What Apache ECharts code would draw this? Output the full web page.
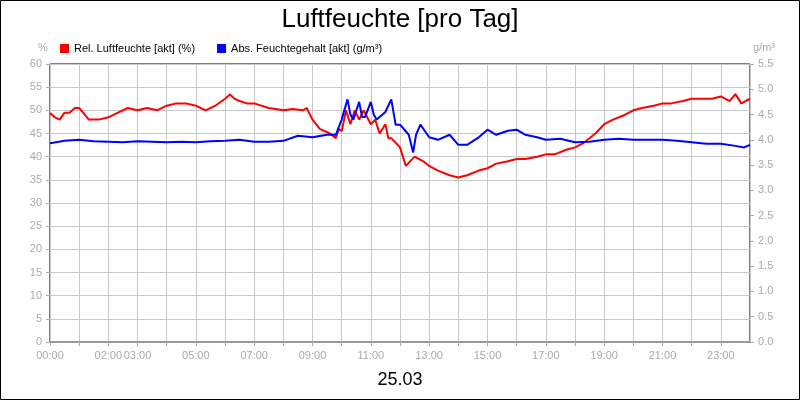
<!DOCTYPE html><html><head><meta charset="utf-8">
<script src="https://cdn.jsdelivr.net/npm/echarts@6/dist/echarts.min.js"></script>
<style>html,body{margin:0;padding:0}#c{width:800px;height:400px}</style></head><body><div id="c"></div><script>
const redTimes=[0,0.17,0.33,0.5,0.67,0.85,1,1.2,1.33,1.5,1.67,2,2.33,2.67,3,3.33,3.67,4,4.33,4.67,5,5.33,5.67,6,6.17,6.33,6.5,6.75,7,7.5,8,8.33,8.67,8.8,9,9.25,9.6,9.8,9.9,10,10.15,10.3,10.45,10.6,10.75,11,11.15,11.3,11.5,11.6,11.7,12,12.2,12.5,12.8,13,13.3,13.7,14,14.3,14.7,15,15.3,15.7,16,16.3,16.7,17,17.3,17.7,18,18.3,18.7,19,19.3,19.7,20,20.3,20.7,21,21.3,21.7,22,22.3,22.7,23,23.3,23.5,23.7,24];
const redVals=[49.4,48.5,48,49.5,49.5,50.5,50.5,49,48,48,48,48.5,49.5,50.5,50,50.5,50,51,51.5,51.5,51,50,51,52.5,53.4,52.5,52,51.5,51.5,50.5,50,50.3,50,50.5,48,46,45,44,46,45.5,50,47,50,48,50,47,48,45,47,44,44,42,38,40,39,38,37,36,35.5,36,37,37.5,38.5,39,39.5,39.5,40,40.5,40.5,41.5,42,43,45,47,48,49,50,50.5,51,51.5,51.5,52,52.5,52.5,52.5,53,52,53.5,51.5,52.5];
const blueTimes=[0,0.5,1,1.5,2,2.5,3,3.5,4,4.5,5,5.5,6,6.5,7,7.5,8,8.5,9,9.5,9.8,10,10.2,10.3,10.4,10.6,10.7,10.8,11,11.1,11.2,11.5,11.7,11.85,12,12.3,12.45,12.55,12.7,13,13.3,13.7,14,14.3,14.7,15,15.3,15.7,16,16.3,16.7,17,17.5,18,18.5,19,19.5,20,20.5,21,21.5,22,22.5,23,23.5,23.8,24];
const blueVals=[3.93,3.98,4.0,3.97,3.96,3.95,3.97,3.96,3.95,3.96,3.95,3.97,3.98,4.0,3.96,3.96,3.98,4.08,4.05,4.1,4.1,4.4,4.8,4.5,4.4,4.75,4.45,4.45,4.75,4.5,4.4,4.55,4.8,4.3,4.3,4.1,3.75,4.1,4.3,4.05,4.0,4.1,3.9,3.9,4.05,4.2,4.1,4.18,4.2,4.1,4.05,4.0,4.02,3.95,3.96,4.0,4.02,4.0,4.0,4.0,3.98,3.95,3.92,3.92,3.88,3.85,3.9];
const leftTicks=[0,5,10,15,20,25,30,35,40,45,50,55,60];
const xLabels={0:'00:00',2:'02:00',3:'03:00',5:'05:00',7:'07:00',9:'09:00',11:'11:00',13:'13:00',15:'15:00',17:'17:00',19:'19:00',21:'21:00',23:'23:00'};
const ch=echarts.init(document.getElementById('c'));
const gray='#aaa';
ch.setOption({
 animation:false,
 title:[{text:'Luftfeuchte [pro Tag]',left:'center',top:2,textStyle:{fontFamily:'Arial, Liberation Sans',fontSize:26,fontWeight:'normal',color:'#000'}},
        {text:'25.03',left:'center',top:366,textStyle:{fontFamily:'Liberation Sans',fontSize:18,fontWeight:'normal',color:'#000'}}],
 legend:{left:55,top:38,itemWidth:9,itemHeight:9,itemGap:22,icon:'rect',textStyle:{fontFamily:'Liberation Sans',fontSize:11,color:'#000'},
   data:['Rel. Luftfeuchte [akt] (%)','Abs. Feuchtegehalt [akt] (g/m³)']},
 graphic:[{type:'rect',shape:{x:0.5,y:0.5,width:799,height:399},style:{fill:'none',stroke:'#000',lineWidth:1}},
   {type:'text',left:38,top:42,style:{text:'%',fill:gray,font:'11px Liberation Sans'}},
   {type:'text',left:753,top:42,style:{text:'g/m³',fill:gray,font:'11px Liberation Sans'}}],
 grid:{left:50,right:50,top:64,bottom:58,show:true,borderColor:'#000',borderWidth:1},
 xAxis:{type:'value',min:0,max:24,interval:1,
   axisLine:{lineStyle:{color:'#999',width:2}},axisTick:{show:true,length:4,lineStyle:{color:gray}},
   axisLabel:{color:gray,fontSize:11,fontFamily:'Liberation Sans',formatter:v=>xLabels[v]||'',showMaxLabel:false},
   splitLine:{lineStyle:{color:'#c8c8c8'}}},
 yAxis:[{type:'value',min:0,max:60,interval:5,axisLine:{show:false},axisTick:{show:true,length:4,lineStyle:{color:gray}},
   axisLabel:{color:gray,fontSize:11,fontFamily:'Liberation Sans'},splitLine:{lineStyle:{color:'#c8c8c8'}}},
  {type:'value',min:0,max:5.5,interval:0.5,axisLine:{show:false},axisTick:{show:true,length:4,lineStyle:{color:gray}},
   axisLabel:{color:gray,fontSize:11,fontFamily:'Liberation Sans',formatter:v=>v.toFixed(1)},splitLine:{show:false}}],
 series:[{name:'Rel. Luftfeuchte [akt] (%)',type:'line',yAxisIndex:0,symbol:'none',color:'#f00',lineStyle:{width:2,color:'#f00'},
   data:redTimes.map((t,i)=>[t,redVals[i]])},
  {name:'Abs. Feuchtegehalt [akt] (g/m³)',type:'line',yAxisIndex:1,symbol:'none',color:'#00f',lineStyle:{width:2,color:'#00f'},
   data:blueTimes.map((t,i)=>[t,blueVals[i]])}]
});
</script></body></html>
